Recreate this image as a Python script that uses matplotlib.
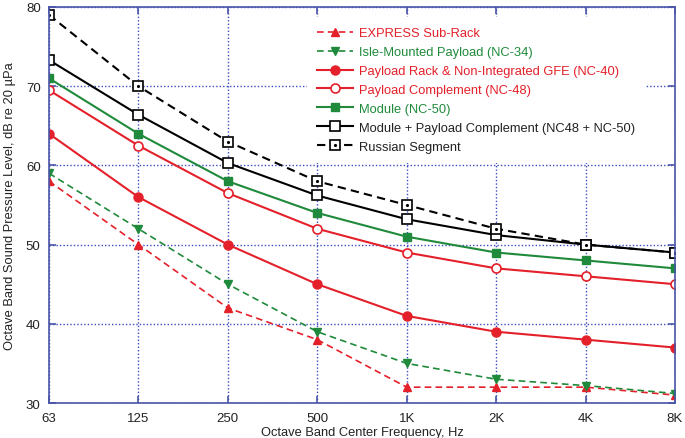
import matplotlib
matplotlib.use("Agg")
import matplotlib.pyplot as plt
from matplotlib.legend_handler import HandlerTuple

plt.rcParams['font.family'] = ['Liberation Sans', 'DejaVu Sans']

freqs = ["63", "125", "250", "500", "1K", "2K", "4K", "8K"]

express = [58, 50, 42, 38, 32, 32, 32, 31]
isle = [59, 52, 45, 39, 35, 33, 32.2, 31.2]
nc40 = [64, 56, 50, 45, 41, 39, 38, 37]
nc48 = [69.5, 62.5, 56.5, 52, 49, 47, 46, 45]
nc50 = [71, 64, 58, 54, 51, 49, 48, 47]
nc48_50 = [73.3, 66.4, 60.3, 56.2, 53.2, 51.2, 50, 49]
russian = [79, 70, 63, 58, 55, 52, 50, 49]

RED = "#e4202a"
GREEN = "#1f8a3b"
BLUE = "#3b4cc0"
SPINE = "#4a55a8"

fig = plt.figure(figsize=(6.85, 4.39), dpi=100)
ax = fig.add_axes([0.0715, 0.0797, 0.9139, 0.9021])
x = list(range(len(freqs)))

h1, = ax.plot(x, express, color=RED, ls=(0, (4, 2.5)), lw=1.2, marker="^", ms=6, label="EXPRESS Sub-Rack")
h2, = ax.plot(x, isle, color=GREEN, ls=(0, (4, 2.5)), lw=1.2, marker="v", ms=6, label="Isle-Mounted Payload (NC-34)")
h3, = ax.plot(x, nc40, color=RED, lw=1.5, marker="o", ms=6.5, label="Payload Rack & Non-Integrated GFE (NC-40)")
h4, = ax.plot(x, nc48, color=RED, lw=1.5, marker="o", ms=6.5, mfc="white", mew=1.2, label="Payload Complement (NC-48)")
h5, = ax.plot(x, nc50, color=GREEN, lw=1.5, marker="s", ms=6, label="Module (NC-50)")
h6, = ax.plot(x, nc48_50, color="black", lw=1.5, marker="s", ms=7, mfc="white", mew=1.2,
              label="Module + Payload Complement (NC48 + NC-50)")
h7, = ax.plot(x, russian, color="black", ls=(0, (4, 2.5)), lw=1.5, marker="s", ms=7, mfc="white", mew=1.2,
              label="Russian Segment")
h7b, = ax.plot(x, russian, ls="none", color="black", marker=".", ms=2.5)

ax.set_xlim(0, len(freqs) - 1)
ax.set_ylim(30, 80)
ax.set_xticks(x)
ax.set_xticklabels(freqs)
ax.set_yticks([30, 40, 50, 60, 70, 80])
ax.grid(True, color=BLUE, ls=(0, (1, 1.5)), lw=1.0)
ax.set_axisbelow(True)
for s in ax.spines.values():
    s.set_color(SPINE)
    s.set_linewidth(1.2)
ax.tick_params(direction="in", top=True, right=True, length=5, color=SPINE, width=1.2,
               labelsize=9.5, labelcolor="#222222", pad=6)
ax.tick_params(axis="x", pad=6.5)

ax.set_xlabel("Octave Band Center Frequency, Hz", fontsize=9.3, color="#222222", labelpad=1.5)
ax.set_ylabel("Octave Band Sound Pressure Level, dB re 20 \u00b5Pa", fontsize=9.3, color="#222222", labelpad=7)

handles = [h1, h2, h3, h4, h5, h6, (h7, h7b)]
labels = [h1.get_label(), h2.get_label(), h3.get_label(), h4.get_label(), h5.get_label(),
          h6.get_label(), h7.get_label()]
leg = ax.legend(handles, labels, loc="upper left", bbox_to_anchor=(0.412, 0.975), fontsize=9.3,
                frameon=True, fancybox=False, edgecolor="none", facecolor="white", framealpha=1,
                handlelength=2.8, handletextpad=0.4, labelspacing=0.53, borderaxespad=0,
                borderpad=0.8, handler_map={tuple: HandlerTuple(ndivide=1, pad=0)})
colors = [RED, GREEN, RED, RED, GREEN, "#222222", "#222222"]
for t, c in zip(leg.get_texts(), colors):
    t.set_color(c)

fig.savefig("out.png", dpi=100)
